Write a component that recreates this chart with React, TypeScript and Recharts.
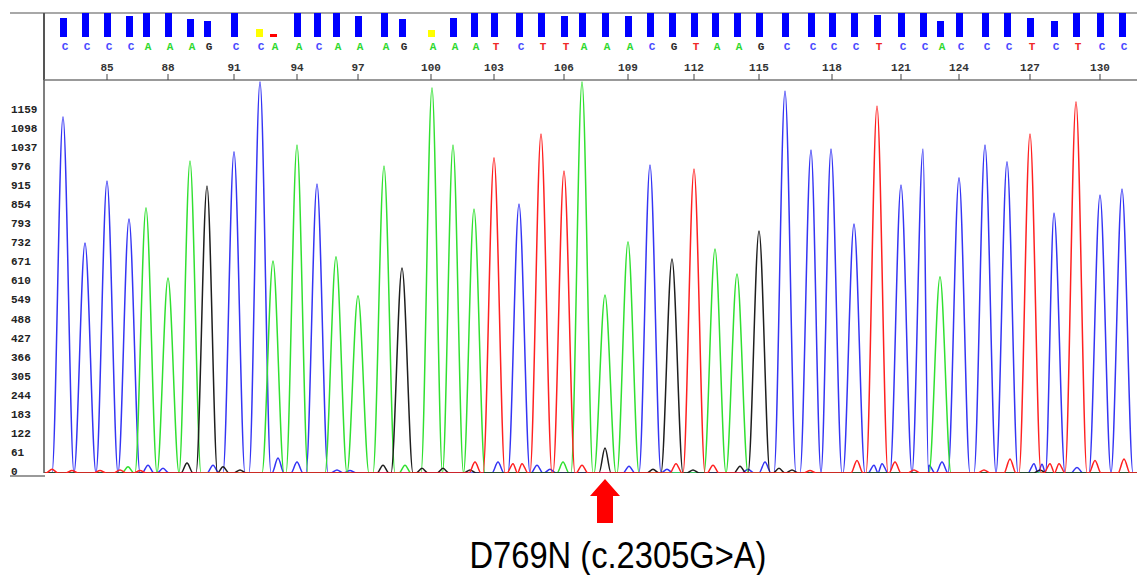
import { ComposedChart, Bar, Cell, Line, XAxis, YAxis, ReferenceLine } from "recharts";

// base calls 83..131 with their scan position and quality score
const FIRST_POS = 83;
const BASE_CALLS = "CCCCAAAGCCAACAAAGAAATCTTAAACGTAAGCCCCTCCACCCTCTCC".split("");
const BASE_SCAN = [
  63, 85, 107, 129, 146, 168, 190, 207, 234, 259, 273, 297, 317, 336, 358, 384, 402,
  431, 453, 474, 494, 519, 541, 564, 582, 605, 628, 650, 672, 694, 715, 737, 759,
  785, 811, 832, 854, 877, 901, 923, 940, 959, 985, 1007, 1030, 1054, 1076, 1100, 1122,
];
const QUALITY = [
  38, 48, 48, 42, 48, 48, 36, 32, 48, 16, 6, 48, 48, 48, 42, 48, 36,
  14, 38, 48, 48, 48, 48, 42, 48, 48, 42, 48, 48, 48, 48, 48, 48,
  48, 48, 48, 48, 44, 48, 48, 32, 48, 48, 48, 38, 32, 48, 48, 48,
];
const POSITION_TICKS = [85, 88, 91, 94, 97, 100, 103, 106, 109, 112, 115, 118, 121, 124, 127, 130];
const Y_TICKS = [0, 61, 122, 183, 244, 305, 366, 427, 488, 549, 610, 671, 732, 793, 854, 915, 976, 1037, 1098, 1159];

// trace peaks per dye: [scan, signal]
const A_PEAKS = [
  [128, 20], [146, 849], [168, 624], [190, 999], [273, 679], [297, 1050], [336, 692],
  [358, 567], [384, 983], [405, 25], [432, 1233], [453, 1050], [474, 845], [563, 35],
  [582, 1252], [605, 570], [628, 740], [715, 717], [737, 637], [940, 628],
];
const C_PEAKS = [
  [63, 1140], [85, 736], [107, 935], [129, 813], [148, 25], [163, 15], [213, 25],
  [234, 1028], [260, 1252], [278, 48], [297, 35], [317, 925], [337, 10], [350, 8],
  [498, 35], [519, 861], [537, 25], [550, 12], [629, 22], [650, 986], [667, 12],
  [748, 12], [765, 35], [785, 1223], [811, 1034], [831, 1037], [854, 797], [874, 25],
  [882, 30], [901, 922], [923, 1037], [929, 25], [942, 35], [959, 945], [985, 1050],
  [1007, 996], [1034, 30], [1042, 28], [1054, 832], [1077, 18], [1100, 890], [1122, 909],
];
const G_PEAKS = [
  [187, 32], [207, 919], [223, 20], [240, 10], [383, 25], [402, 656], [422, 15],
  [443, 15], [470, 10], [605, 80], [653, 12], [672, 685], [693, 10], [740, 22],
  [759, 775], [779, 15], [792, 10], [1040, 10],
];
const T_PEAKS = [
  [52, 12], [72, 8], [100, 8], [120, 10], [140, 8], [475, 35], [494, 1009], [513, 30],
  [522, 30], [541, 1085], [564, 967], [582, 25], [676, 30], [694, 973], [713, 25],
  [810, 8], [857, 40], [877, 1175], [895, 35], [914, 10], [984, 10], [1010, 45],
  [1030, 1085], [1050, 30], [1059, 30], [1076, 1188], [1095, 40], [1124, 45],
];

const MUTATION_POS = 108;
const MUTATION_LABEL = "D769N (c.2305G>A)";

const BASE_COLORS: Record<string, string> = { A: "#2ed82e", C: "#4848ff", G: "#2a2a2a", T: "#f02828" };
const MONO = "'Liberation Mono', 'DejaVu Sans Mono', monospace";
const X_DOMAIN = [44, 1137];

const scanOf = (pos: number) => BASE_SCAN[pos - FIRST_POS];

// turn a peak list into a trace that sits on the baseline between peaks
function buildTrace(peaks: number[][]) {
  const sorted = [...peaks].sort((a, b) => a[0] - b[0]);
  const pts: { x: number; y: number }[] = [{ x: X_DOMAIN[0], y: 0 }];
  for (const [x, h] of sorted) {
    const w = h > 150 ? 11 : 6;
    const last = pts[pts.length - 1];
    if (x - w <= last.x) {
      last.x = (last.x + x - w) / 2;
    } else {
      pts.push({ x: x - w, y: 0 });
    }
    pts.push({ x, y: h });
    pts.push({ x: x + w, y: 0 });
  }
  pts.push({ x: X_DOMAIN[1] + 10, y: 0 });
  return pts;
}

const traces = [
  { key: "C", color: "#3434f4", data: buildTrace(C_PEAKS) },
  { key: "A", color: "#30e030", data: buildTrace(A_PEAKS) },
  { key: "G", color: "#1e1e1e", data: buildTrace(G_PEAKS) },
  { key: "T", color: "#ff2020", data: buildTrace(T_PEAKS) },
];

const baseRows = BASE_CALLS.map((b, i) => ({ base: b, scan: BASE_SCAN[i], qual: QUALITY[i] }));

const qualColor = (q: number) => (q < 10 ? "#ff0000" : q < 20 ? "#ffff00" : "#0000ff");

function BaseTick(props: any) {
  const { x, y, payload } = props;
  const i = BASE_SCAN.indexOf(payload.value);
  const b = BASE_CALLS[i];
  return (
    <text x={x + 2} y={y + 13} textAnchor="middle" fontFamily={MONO} fontSize={11} fontWeight="bold" fill={BASE_COLORS[b]}>
      {b}
    </text>
  );
}

function PosTick(props: any) {
  const { x, y, payload } = props;
  const i = BASE_SCAN.indexOf(payload.value);
  return (
    <text x={x} y={y - 1} textAnchor="middle" fontFamily={MONO} fontSize={11} fontWeight="bold" fill="#333">
      {FIRST_POS + i}
    </text>
  );
}

function YTick(props: any) {
  const { y, payload } = props;
  return (
    <text x={11} y={y + 2} textAnchor="start" fontFamily={MONO} fontSize={11} fontWeight="bold" fill="#222">
      {payload.value}
    </text>
  );
}

function MutationMark(props: any) {
  const { viewBox } = props;
  const cx = viewBox.x;
  const bottom = viewBox.y + viewBox.height;
  const tip = bottom + 6;
  return (
    <g>
      <polygon
        points={`${cx},${tip} ${cx + 15},${tip + 17} ${cx + 8},${tip + 17} ${cx + 8},${tip + 44} ${cx - 8},${tip + 44} ${cx - 8},${tip + 17} ${cx - 15},${tip + 17}`}
        fill="#ff0000"
      />
      <text
        x={cx + 13}
        y={bottom + 95}
        textAnchor="middle"
        fontFamily="'Liberation Sans', Arial, sans-serif"
        fontSize={37}
        textLength={297}
        lengthAdjust="spacingAndGlyphs"
        fill="#000"
      >
        {MUTATION_LABEL}
      </text>
    </g>
  );
}

export default function App() {
  return (
    <div style={{ position: "absolute", left: 0, top: 0, width: 1137, height: 575, background: "#fff", overflow: "hidden" }}>
      <div style={{ position: "absolute", left: 10, top: 12, width: 1127, height: 2, background: "#a8a8a8" }} />
      <div style={{ position: "absolute", left: 43, top: 13, width: 2, height: 67, background: "#555" }} />
      <div style={{ position: "absolute", left: 10, top: 475, width: 35, height: 2, background: "#999" }} />

      <div style={{ position: "absolute", left: 0, top: 0 }}>
        <ComposedChart width={1137} height={575} margin={{ top: 55, right: 0, bottom: 102, left: 0 }}>
          <XAxis
            type="number"
            dataKey="x"
            domain={X_DOMAIN}
            allowDataOverflow
            orientation="top"
            height={25}
            ticks={POSITION_TICKS.map(scanOf)}
            interval={0}
            tickSize={6}
            tickLine={{ stroke: "#444" }}
            axisLine={{ stroke: "#777", strokeWidth: 1.5 }}
            tick={<PosTick />}
          />
          <YAxis
            type="number"
            domain={[0, 1258]}
            allowDataOverflow
            ticks={Y_TICKS}
            interval={0}
            width={44}
            tickLine={false}
            axisLine={{ stroke: "#555", strokeWidth: 1.5 }}
            tick={<YTick />}
          />
          {traces.map((t) => (
            <Line
              key={t.key}
              data={t.data}
              dataKey="y"
              type="monotone"
              stroke={t.color}
              strokeWidth={1.5}
              dot={false}
              activeDot={false}
              isAnimationActive={false}
            />
          ))}
          <ReferenceLine x={scanOf(MUTATION_POS)} stroke="none" label={<MutationMark />} />
        </ComposedChart>
      </div>

      <div style={{ position: "absolute", left: 0, top: 0 }}>
        <ComposedChart width={1137} height={55} data={baseRows} margin={{ top: 13, right: 0, bottom: 0, left: 44 }}>
          <XAxis
            type="number"
            dataKey="scan"
            domain={X_DOMAIN}
            allowDataOverflow
            ticks={BASE_SCAN}
            interval={0}
            height={18}
            tickSize={0}
            tickMargin={0}
            axisLine={false}
            tickLine={false}
            tick={<BaseTick />}
          />
          <YAxis hide domain={[0, 48]} />
          <Bar dataKey="qual" barSize={7} isAnimationActive={false}>
            {baseRows.map((r) => (
              <Cell key={r.scan} fill={qualColor(r.qual)} />
            ))}
          </Bar>
        </ComposedChart>
      </div>
    </div>
  );
}
